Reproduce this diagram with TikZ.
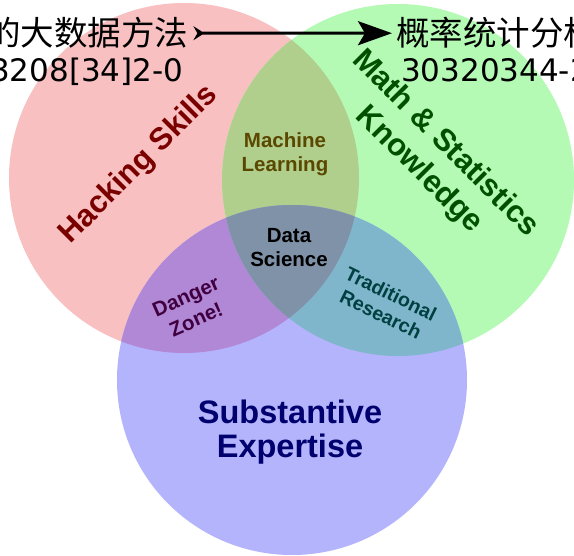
\documentclass[tikz,border=0pt]{standalone}
\usepackage{fontspec}
\newfontfamily\labfont{Liberation Sans}
\newfontfamily\cjkfont{Noto Sans CJK SC}
\newfontfamily\numfont{DejaVu Sans}
\usetikzlibrary{arrows.meta}
\definecolor{cred}{RGB}{248,192,192}
\definecolor{cgreen}{RGB}{180,250,180}
\definecolor{cblue}{RGB}{180,180,252}
\definecolor{crg}{RGB}{176,206,140}
\definecolor{crb}{RGB}{176,136,214}
\definecolor{cgb}{RGB}{128,182,204}
\definecolor{crgb}{RGB}{128,146,168}
\definecolor{thack}{RGB}{122,0,0}
\definecolor{tmath}{RGB}{0,80,0}
\definecolor{tml}{RGB}{90,72,0}
\definecolor{tdanger}{RGB}{64,0,64}
\definecolor{ttrad}{RGB}{0,64,64}
\definecolor{tsub}{RGB}{0,0,110}
\tikzset{
  lab/.style={inner sep=0pt, align=center},
  bigfont/.style={font=\labfont\bfseries\fontsize{31}{37}\selectfont},
  smallfont/.style={font=\labfont\bfseries\fontsize{20.5}{24}\selectfont},
  cjk/.style={inner sep=0pt, font=\cjkfont\fontsize{33.5}{40}\selectfont},
  num/.style={inner sep=0pt, font=\numfont\fontsize{31}{37}\selectfont},
}
\begin{document}
\begin{tikzpicture}[x=1pt,y=-1pt]
\useasboundingbox (0,0) rectangle (574,556);
\fill[white] (0,0) rectangle (574,556);
\def\R{(184,178) circle[radius=175pt]}
\def\G{(398,180) circle[radius=176pt]}
\def\B{(292,380) circle[radius=175pt]}
\fill[cred] \R;
\fill[cgreen] \G;
\fill[cblue] \B;
\begin{scope}\clip \R; \fill[crg] \G; \end{scope}
\begin{scope}\clip \R; \fill[crb] \B; \end{scope}
\begin{scope}\clip \G; \fill[cgb] \B; \end{scope}
\begin{scope}\clip \R; \clip \G; \fill[crgb] \B; \end{scope}

\node[lab, bigfont, text=thack, rotate=45] (hack) at (139,165) {Hacking Skills};
\node[lab, bigfont, text=tmath, rotate=-45] (math) at (432,157) {Math \& Statistics\\Knowledge};
\node[lab, smallfont, text=tml] (ml) at (285,154) {Machine\\Learning};
\node[lab, smallfont, text=black] (ds) at (289,248) {Data\\Science};
\node[lab, text=tdanger, rotate=24, font=\labfont\bfseries\fontsize{20.5}{25}\selectfont] (dz) at (191,308) {Danger\\Zone!};
\node[lab, text=ttrad, rotate=-26, font=\labfont\bfseries\fontsize{19.5}{23}\selectfont] (tr) at (386,304) {Traditional\\Research};
\node[lab, text=tsub, font=\labfont\bfseries\fontsize{32.5}{34}\selectfont] (sub) at (290,432) {Substantive\\Expertise};

\node[cjk, anchor=base west] (l1) at (-13,46) {的大数据方法};
\node[num, anchor=base west] (l2) at (-10,82) {3208[34]2-0};
\node[cjk, anchor=base west] (r1) at (396,46) {概率统计分析};
\node[num, anchor=base west] (r2) at (401,82) {30320344-2};
\draw[line width=3pt, {Stealth[reversed,length=11pt,width=14pt,inset=4pt]}-{Stealth[length=34pt,width=24pt,inset=7pt]}]
  ([xshift=5pt]l1.east) -- ([xshift=-4pt]r1.west);
\end{tikzpicture}
\end{document}
